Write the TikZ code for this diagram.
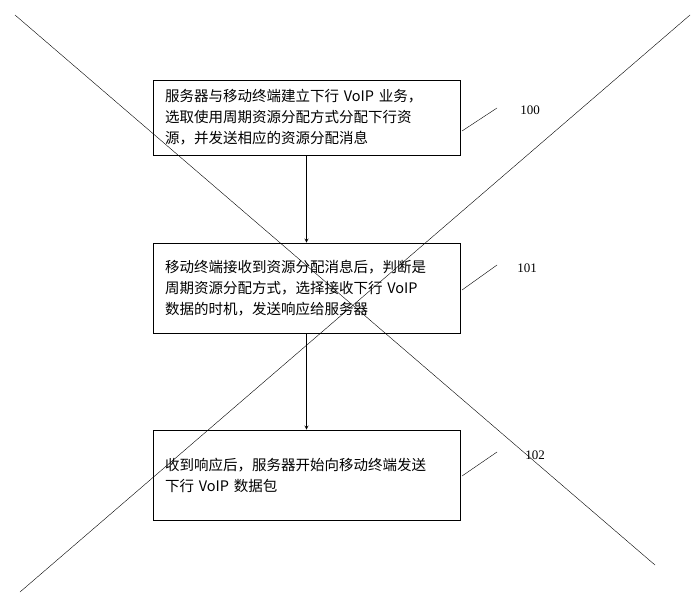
\documentclass[tikz,border=0pt]{standalone}
\usepackage{fontspec}
\setmainfont{Liberation Serif}
\newfontfamily\cjk{Noto Sans CJK SC}
\usetikzlibrary{positioning}
\tikzset{
  stepbox/.style={draw, thick, text width=283pt, align=left, inner xsep=12pt, inner ysep=8pt, font=\cjk\fontsize{14.5pt}{21pt}\selectfont},
  flow/.style={->, >=stealth, thick},
  tag/.style={font=\fontsize{13pt}{15pt}\selectfont}
}
\begin{document}
\begin{tikzpicture}[x=1pt, y=-1pt]
    \useasboundingbox (0,0) rectangle (700,600);
    % the crossing lines
    \draw[thin] (15,15) -- (655,565);
    \draw[thin] (690,15) -- (20,592);

    % the steps
    \node[stepbox, minimum height=75pt] (s100) at (306.5,117.5) {服务器与移动终端建立下行 VoIP 业务，\\选取使用周期资源分配方式分配下行资\\源，并发送相应的资源分配消息};
    \node[stepbox, minimum height=90pt] (s101) at (306.5,288) {移动终端接收到资源分配消息后，判断是\\周期资源分配方式，选择接收下行 VoIP\\数据的时机，发送响应给服务器};
    \node[stepbox, minimum height=90pt] (s102) at (306.5,475) {收到响应后，服务器开始向移动终端发送\\下行 VoIP 数据包};

    \draw[flow] (s100) -- (s101);
    \draw[flow] (s101) -- (s102);

    % the step numbers
    \node[tag] (t100) at (530,110) {100};
    \node[tag] (t101) at (527,268) {101};
    \node[tag] (t102) at (535,455) {102};
    \draw[thin] (462,131) -- (497,108);
    \draw[thin] (462,290) -- (497,265);
    \draw[thin] (462,476) -- (497,452);
\end{tikzpicture}
\end{document}
